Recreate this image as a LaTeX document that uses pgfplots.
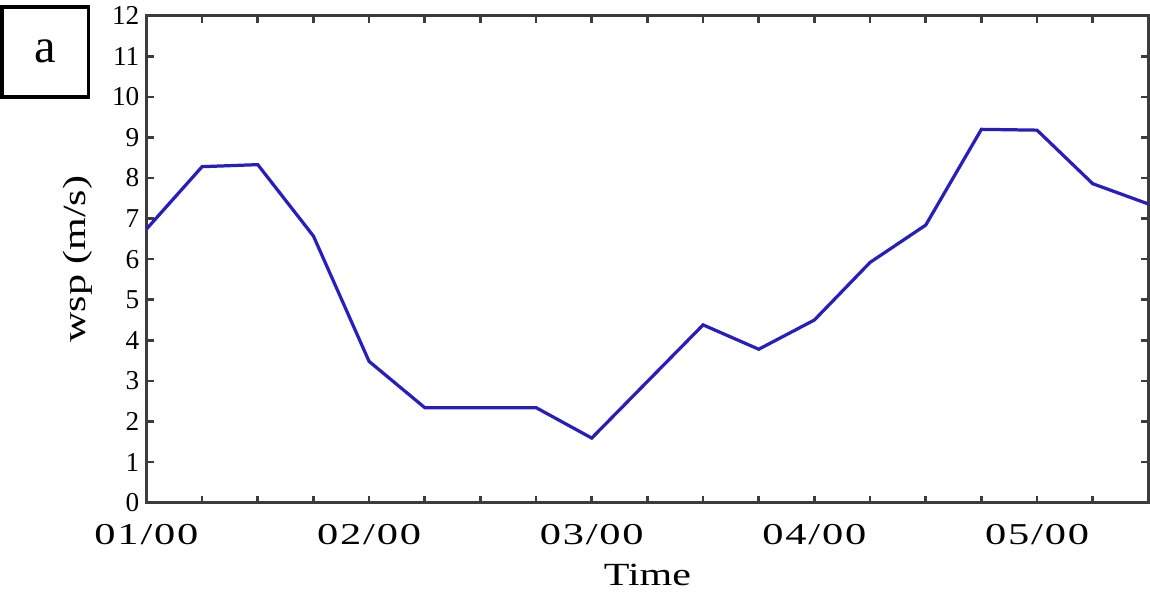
\documentclass[border=0pt]{standalone}
\usepackage{fontspec}
\setmainfont{Liberation Serif}
\newfontfamily\widefont[FakeStretch=1.3]{Liberation Serif}
\newfontfamily\xtickfont[FakeStretch=1.4, LetterSpace=6]{Liberation Serif}
\usepackage{pgfplots}
\pgfplotsset{compat=1.18}
\definecolor{wspline}{RGB}{40,30,190}
\definecolor{axgray}{RGB}{60,60,60}

\begin{document}
\begin{tikzpicture}
\begin{axis}[
    width=496pt, height=241pt,
    scale only axis,
    xmin=1, xmax=5.5,
    ymin=0, ymax=12,
    xtick={1,2,3,4,5},
    xticklabels={01/00,02/00,03/00,04/00,05/00},
    minor xtick={1.25,1.5,1.75,2.25,2.5,2.75,3.25,3.5,3.75,4.25,4.5,4.75,5.25},
    ytick={0,1,...,12},
    tick align=inside,
    xtick pos=both,
    ytick pos=both,
    xticklabel pos=bottom,
    yticklabel pos=left,
    major tick length=3.5pt,
    minor tick length=3.5pt,
    every tick/.style={axgray, line width=1.3pt},
    axis line style={axgray, line width=1.6pt},
    /pgf/number format/assume math mode=true,
    yticklabel style={font=\fontsize{13.5}{15}\selectfont},
    xticklabel style={font=\xtickfont\fontsize{15}{17}\selectfont,
        anchor=center, yshift=-16pt},
    xlabel={Time},
    ylabel={wsp (m/s)},
    label style={font=\widefont\fontsize{16}{18}\selectfont},
    xlabel style={at={(axis description cs:0.5,-0.149)}, anchor=center},
    ylabel style={at={(axis description cs:-0.0685,0.5)}, anchor=center},
    clip=false]
\addplot[color=wspline, line width=1.6pt] coordinates {
    (1.00,6.74)(1.25,8.28)(1.50,8.33)(1.75,6.57)(2.00,3.48)(2.25,2.34)
    (2.75,2.34)(3.00,1.59)(3.50,4.38)(3.75,3.78)(4.00,4.50)(4.25,5.92)
    (4.50,6.84)(4.75,9.20)(5.00,9.18)(5.25,7.86)(5.50,7.36)
};
\node[draw=black, line width=1.8pt, minimum width=43pt, minimum height=44.5pt,
      inner sep=0pt, font=\fontsize{24}{26}\selectfont]
    at (rel axis cs:-0.101,0.926) {a};
\end{axis}
\end{tikzpicture}
\end{document}
